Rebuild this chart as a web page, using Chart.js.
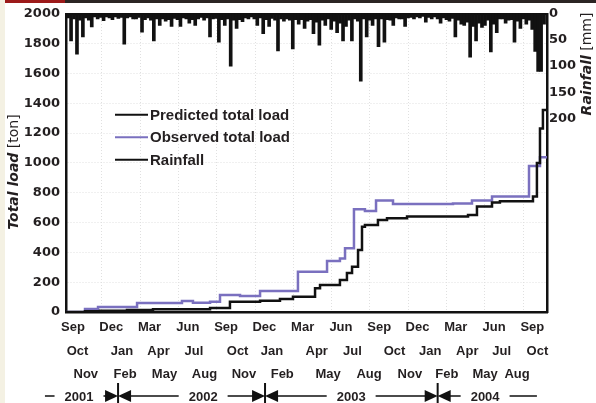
<!DOCTYPE html>
<html>
<head>
<meta charset="utf-8">
<script src="https://cdn.jsdelivr.net/npm/chart.js@4.4.0/dist/chart.umd.min.js"></script>
<style>
  html, body { margin: 0; padding: 0; background: #fff; }
  #wrap { position: relative; width: 596px; height: 403px; }
</style>
</head>
<body>
<div id="wrap"><canvas id="loadChart" width="596" height="403"></canvas></div>
<script>
// x values are months since Sep 2001
const predictedMonth = [-0.55, 0.94, 2.12, 4.23, 6.27, 10.74, 12.30, 14.66, 16.22, 17.24, 18.97, 19.36, 20.92, 21.47, 21.87, 22.34, 22.65, 22.88, 23.90, 24.61, 26.18, 30.96, 31.66, 32.84, 33.46, 36.05, 36.36, 36.60, 36.83, 37.15];
const predictedLoad = [0, 5, 9, 13, 18, 27, 69, 76, 87, 103, 159, 181, 215, 262, 304, 416, 572, 584, 617, 629, 640, 651, 707, 734, 743, 774, 1000, 1230, 1355, 1355];

const observedMonth = [-0.55, 0.94, 1.96, 5.02, 8.54, 9.40, 10.74, 11.52, 13.09, 14.66, 17.63, 19.91, 20.92, 21.32, 22.02, 22.88, 23.75, 25.08, 29.78, 31.27, 32.84, 35.74, 36.60, 37.15];
const observedLoad = [0, 20, 33, 60, 73, 62, 68, 114, 107, 141, 270, 342, 358, 427, 689, 678, 747, 725, 727, 747, 774, 980, 1038, 1038];

// weekly rainfall [mm], first week starts just before Sep 2001
const rainStartMonth = -0.385;
const rainStepMonth = 0.2317;
const rainfallMm = [
    8, 52, 10, 77, 12, 44, 8, 12, 25, 6, 10, 7,
    13, 6, 8, 11, 6, 9, 7, 58, 8, 6,
    10, 10, 7, 35, 11, 8, 12, 52, 10, 22,
    10, 14, 11, 24, 9, 11, 24, 8, 10, 18,
    11, 22, 10, 7, 12, 8, 44, 10, 9, 54,
    11, 22, 10, 100, 12, 28, 11, 15, 8, 10,
    6, 10, 22, 8, 38, 11, 24, 9, 12, 71,
    10, 14, 10, 12, 67, 11, 20, 11, 28, 14,
    11, 38, 16, 60, 12, 22, 10, 30, 14, 36,
    18, 52, 24, 12, 52, 10, 14, 129, 10, 44,
    12, 22, 10, 63, 10, 54, 11, 12, 22, 8,
    10, 10, 24, 8, 7, 10, 6, 8, 5, 16,
    7, 10, 6, 10, 18, 8, 11, 14, 9, 44,
    12, 20, 22, 16, 83, 24, 52, 18, 26, 22,
    12, 73, 20, 36, 10, 10, 18, 12, 11, 54,
    14, 28, 10, 20, 12, 30, 72, 110, 110, 20
];

// tick label rows
const row1Labels = ['Sep', 'Dec', 'Mar', 'Jun', 'Sep', 'Dec', 'Mar', 'Jun', 'Sep', 'Dec', 'Mar', 'Jun', 'Sep'];
const row1Pos = [0, 3, 6, 9, 12, 15, 18, 21, 24, 27, 30, 33, 36];
const row2Labels = ['Oct', 'Jan', 'Apr', 'Jul', 'Oct', 'Jan', 'Apr', 'Jul', 'Oct', 'Jan', 'Apr', 'Jul', 'Oct'];
const row2Pos = [0.35, 3.84, 6.7, 9.48, 12.9, 15.6, 19.1, 21.9, 25.2, 28.0, 30.9, 33.6, 36.4];
const row3Labels = ['Nov', 'Feb', 'May', 'Aug', 'Nov', 'Feb', 'May', 'Aug', 'Nov', 'Feb', 'May', 'Aug'];
const row3Pos = [1.0, 4.08, 7.17, 10.3, 13.4, 16.4, 20.0, 23.2, 26.4, 29.3, 32.3, 34.8];

const yearLabels = ['2001', '2002', '2003', '2004'];
const yearPos = [0.47, 10.2, 21.8, 32.3];
const yearBounds = [3.53, 15.05, 28.58];
const yearStart = -2.2;
const yearEnd = 36.36;

const loadTicks = [0, 200, 400, 600, 800, 1000, 1200, 1400, 1600, 1800, 2000];
const rainTicks = [0, 50, 100, 150, 200];
const gridMonths = [2.27, 5.27, 8.27, 11.27, 14.27, 17.27, 20.27, 23.27, 26.27, 29.27, 32.27, 35.27];

const xMin = -0.55, xMax = 37.15;
const textColor = '#231f20';
const frameColor = '#111111';
const purple = '#7a70bf';

const tickFontX = { family: "'Liberation Sans', Arial, sans-serif", weight: 'bold', size: 13 };
const tickFontY = { family: "'DejaVu Sans', sans-serif", weight: 'bold', size: 13 };

// Background strips of the page
const decorPlugin = {
    id: 'decor',
    beforeDraw(chart) {
        const c = chart.ctx;
        c.save();
        c.fillStyle = '#ffffff';
        c.fillRect(0, 0, chart.width, chart.height);
        c.fillStyle = '#f4f1e3';
        c.fillRect(0, 0, 5, chart.height);
        c.fillStyle = '#2b2523';
        c.fillRect(5, 0, chart.width - 5, 3);
        c.fillStyle = '#9c1a1a';
        c.fillRect(5, 0, 60, 3);
        c.restore();
    }
};

function drawRotatedTitle(c, x, y, parts) {
    c.save();
    c.translate(x, y);
    c.rotate(-Math.PI / 2);
    let total = 0;
    parts.forEach(p => { c.font = p.font; p.w = c.measureText(p.text).width; total += p.w; });
    let cx = -total / 2;
    c.textAlign = 'left';
    c.textBaseline = 'middle';
    c.fillStyle = textColor;
    parts.forEach(p => { c.font = p.font; c.fillText(p.text, cx, 0); cx += p.w; });
    c.restore();
}

// Axis titles with bold italic name + regular unit
const titlePlugin = {
    id: 'axisTitles',
    afterDraw(chart) {
        const c = chart.ctx;
        drawRotatedTitle(c, 14, 172, [
            { text: 'Total load', font: "italic bold 14px 'DejaVu Sans'" },
            { text: ' [ton]', font: "14px 'DejaVu Sans'" }
        ]);
        drawRotatedTitle(c, 587, 64, [
            { text: 'Rainfall', font: "italic bold 14px 'DejaVu Sans'" },
            { text: ' [mm]', font: "14px 'DejaVu Sans'" }
        ]);
    }
};

// Legend inside the plot
const legendPlugin = {
    id: 'insideLegend',
    afterDatasetsDraw(chart) {
        const a = chart.chartArea, c = chart.ctx;
        c.save();
        c.font = "bold 15px 'Liberation Sans', Arial, sans-serif";
        c.textBaseline = 'middle';
        c.textAlign = 'left';
        chart.data.datasets.forEach((ds, i) => {
            const x = a.left + 49;
            const y = a.top + 101 + i * 22.5;
            c.strokeStyle = ds.type === 'bar' ? ds.backgroundColor : ds.borderColor;
            c.lineWidth = 2;
            c.beginPath();
            c.moveTo(x, y);
            c.lineTo(x + 33, y);
            c.stroke();
            c.fillStyle = textColor;
            c.fillText(ds.label, x + 35, y + 1);
        });
        c.restore();
    }
};

// Year row with arrows under the month labels
const yearRowPlugin = {
    id: 'yearRow',
    afterDraw(chart) {
        const xs = chart.scales.x, c = chart.ctx;
        const y = chart.height - 7;
        const edges = [yearStart, ...yearBounds, yearEnd];
        c.save();
        c.font = "bold 13px 'Liberation Sans', Arial, sans-serif";
        c.fillStyle = textColor;
        c.strokeStyle = frameColor;
        c.lineWidth = 1.5;
        c.textAlign = 'center';
        c.textBaseline = 'middle';
        yearLabels.forEach((lab, i) => {
            const tx = xs.getPixelForValue(yearPos[i]);
            const half = c.measureText(lab).width / 2 + 10;
            const x0 = xs.getPixelForValue(edges[i]) + (i > 0 ? 12 : 0);
            const x1 = xs.getPixelForValue(edges[i + 1]) - (i < yearLabels.length - 1 ? 12 : 0);
            c.fillText(lab, tx, y + 1);
            c.beginPath();
            if (tx - half > x0) { c.moveTo(x0, y); c.lineTo(tx - half, y); }
            if (x1 > tx + half) { c.moveTo(tx + half, y); c.lineTo(x1, y); }
            c.stroke();
        });
        c.fillStyle = frameColor;
        yearBounds.forEach(b => {
            const bx = xs.getPixelForValue(b);
            c.beginPath();
            c.moveTo(bx - 13, y - 6); c.lineTo(bx, y); c.lineTo(bx - 13, y + 6); c.closePath();
            c.fill();
            c.beginPath();
            c.moveTo(bx + 13, y - 6); c.lineTo(bx, y); c.lineTo(bx + 13, y + 6); c.closePath();
            c.fill();
            c.lineWidth = 2;
            c.beginPath();
            c.moveTo(bx, y - 13); c.lineTo(bx, y + 7);
            c.stroke();
        });
        c.restore();
    }
};

function fixTicks(values) {
    return scale => { scale.ticks = values.map(v => ({ value: v })); };
}

function labelRow(labels, values, weight) {
    return {
        type: 'linear', position: 'bottom', weight: weight, min: xMin, max: xMax,
        afterBuildTicks: fixTicks(values),
        afterFit: s => { s.height = 23; },
        grid: { display: false, drawTicks: false },
        border: { display: false },
        ticks: {
            autoSkip: false, maxRotation: 0, minRotation: 0, padding: 8,
            color: textColor, font: tickFontX,
            callback: (v, i) => labels[i]
        }
    };
}

const ctx = document.getElementById('loadChart').getContext('2d');

new Chart(ctx, {
    type: 'line',
    data: {
        datasets: [
            {
                label: 'Predicted total load',
                data: predictedMonth.map((m, i) => ({ x: m, y: predictedLoad[i] })),
                borderColor: frameColor,
                borderWidth: 2.5,
                stepped: 'before',
                pointRadius: 0,
                xAxisID: 'x',
                yAxisID: 'y'
            },
            {
                label: 'Observed total load',
                data: observedMonth.map((m, i) => ({ x: m, y: observedLoad[i] })),
                borderColor: purple,
                borderWidth: 2.5,
                stepped: 'before',
                pointRadius: 0,
                xAxisID: 'x',
                yAxisID: 'y'
            },
            {
                type: 'bar',
                label: 'Rainfall',
                data: rainfallMm.map((v, i) => ({ x: rainStartMonth + i * rainStepMonth, y: v })),
                backgroundColor: frameColor,
                borderWidth: 0,
                barThickness: 3,
                xAxisID: 'x',
                yAxisID: 'y2'
            }
        ]
    },
    options: {
        responsive: false,
        animation: false,
        events: [],
        layout: { padding: { top: 12, bottom: 21, left: 0, right: 0 } },
        plugins: {
            legend: { display: false },
            tooltip: { enabled: false }
        },
        scales: {
            x: {
                type: 'linear', position: 'bottom', weight: 0, min: xMin, max: xMax, offset: false,
                afterBuildTicks: fixTicks(row1Pos),
                afterFit: s => { s.height = 24; },
                grid: { display: false, drawTicks: false },
                border: { display: true, color: frameColor, width: 2.5 },
                ticks: {
                    autoSkip: false, maxRotation: 0, minRotation: 0, padding: 8,
                    color: textColor, font: tickFontX,
                    callback: (v, i) => row1Labels[i]
                }
            },
            x2: labelRow(row2Labels, row2Pos, 1),
            x3: labelRow(row3Labels, row3Pos, 2),
            xg: {
                type: 'linear', position: 'top', min: xMin, max: xMax,
                afterBuildTicks: fixTicks(gridMonths),
                afterFit: s => { s.height = 0; },
                ticks: { display: false },
                grid: { color: '#e0e0e0', lineWidth: 1, drawTicks: false },
                border: { display: true, color: frameColor, width: 2, dash: [1, 2] }
            },
            y: {
                position: 'left', min: 0, max: 2000,
                afterBuildTicks: fixTicks(loadTicks),
                afterFit: s => { s.width = 66; },
                grid: { color: '#e0e0e0', lineWidth: 1, drawTicks: false },
                border: { display: true, color: frameColor, width: 2.5, dash: [1, 2] },
                ticks: { padding: 6, color: textColor, font: tickFontY, callback: v => String(v) }
            },
            y2: {
                position: 'right', min: 0, max: 570, reverse: true,
                afterBuildTicks: fixTicks(rainTicks),
                afterFit: s => { s.width = 49; },
                grid: { display: false, drawTicks: false },
                border: { display: true, color: frameColor, width: 2.5 },
                ticks: { padding: 2, color: textColor, font: tickFontY, callback: v => String(v) }
            }
        }
    },
    plugins: [decorPlugin, legendPlugin, titlePlugin, yearRowPlugin]
});
</script>
</body>
</html>
